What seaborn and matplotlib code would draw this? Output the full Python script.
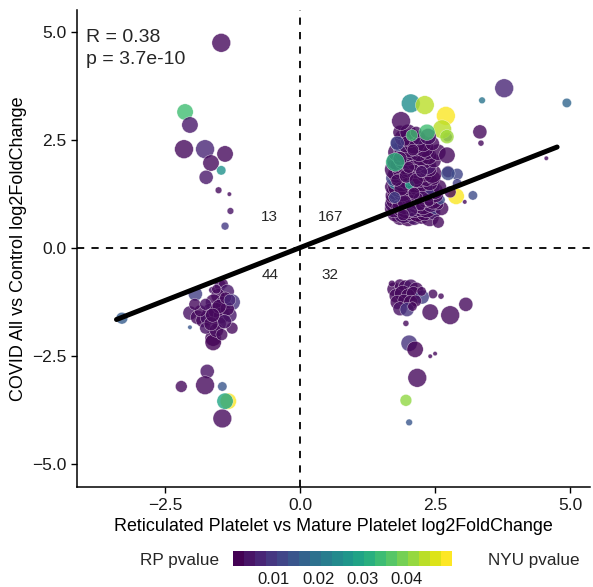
import numpy as np
import pandas as pd
import matplotlib
matplotlib.use("Agg")
import matplotlib.pyplot as plt
import seaborn as sns

sns.set_style("white")
plt.rcParams['font.family'] = ['Liberation Sans', 'DejaVu Sans']

# upper-left quadrant
tl_x = [-1.46, -2.13, -2.04, -2.15, -1.76, -1.39, -1.65, -1.46, -1.74, -1.51, -1.31, -1.29, -1.39]
tl_y = [4.75, 3.15, 2.85, 2.29, 2.29, 2.18, 1.97, 1.80, 1.64, 1.34, 1.25, 0.86, 0.51]
tl_rp = [0.002, 0.035, 0.004, 0.002, 0.006, 0.002, 0.002, 0.026, 0.004, 0.002, 0.002, 0.003, 0.009]
tl_nyu = [0.011, 0.021, 0.021, 0.011, 0.011, 0.021, 0.021, 0.042, 0.029, 0.047, 0.05, 0.047, 0.045]

# lower-left quadrant
bl_x = [-3.30, -1.72, -2.20, -1.76, -1.44, -1.33, -1.39, -1.44,
        -1.94, -1.63, -1.48, -1.42, -1.35, -1.26, -1.52, -1.60, -1.42, -2.04,
        -2.04, -1.90, -1.80, -1.67, -1.70, -1.55, -1.45, -1.30, -1.35, -1.26,
        -1.61, -1.61, -1.50, -1.75, -1.55, -1.85, -1.40, -1.95, -1.50, -1.65,
        -1.75, -1.38, -1.55, -1.45, -1.30, -1.62]
bl_y = [-1.62, -2.85, -3.20, -3.17, -3.20, -3.54, -3.54, -3.94,
        -1.06, -0.97, -0.86, -0.82, -1.00, -1.25, -1.10, -1.25, -1.30, -1.50,
        -1.83, -1.60, -1.67, -1.44, -1.60, -1.45, -1.55, -1.55, -1.40, -1.85,
        -2.08, -2.18, -1.75, -1.85, -1.90, -1.45, -1.70, -1.30, -1.35, -1.75,
        -1.30, -1.15, -0.95, -2.00, -1.20, -1.55]
bl_rp = [0.015, 0.003, 0.002, 0.002, 0.014, 0.050, 0.030, 0.002,
         0.010, 0.003, 0.003, 0.002, 0.004, 0.008, 0.002, 0.002, 0.003, 0.003,
         0.014, 0.002, 0.002, 0.002, 0.003, 0.002, 0.002, 0.004, 0.002, 0.002,
         0.002, 0.001, 0.002, 0.003, 0.002, 0.002, 0.003, 0.002, 0.002, 0.002,
         0.003, 0.002, 0.002, 0.002, 0.006, 0.002]
bl_nyu = [0.036, 0.029, 0.036, 0.011, 0.042, 0.021, 0.021, 0.011,
          0.029, 0.047, 0.036, 0.042, 0.029, 0.021, 0.029, 0.021, 0.021, 0.029,
          0.05, 0.029, 0.029, 0.029, 0.021, 0.021, 0.021, 0.029, 0.029, 0.036,
          0.021, 0.021, 0.029, 0.036, 0.029, 0.036, 0.029, 0.036, 0.029, 0.029,
          0.036, 0.036, 0.042, 0.036, 0.036, 0.029]

# lower-right quadrant
br_x = [2.46, 2.61, 2.41, 2.78, 3.07, 1.96, 2.02, 2.13, 2.41, 2.50, 2.17, 1.96, 2.02,
        1.74, 1.85, 1.95, 2.05, 2.15, 1.78, 1.90, 2.00, 2.10, 2.26, 1.80, 1.92,
        2.05, 2.14, 1.85, 1.98, 2.08, 1.70, 2.25]
br_y = [-1.06, -1.11, -1.48, -1.55, -1.30, -1.74, -2.20, -2.34, -2.50, -2.44, -3.00, -3.52, -4.03,
        -0.95, -0.85, -0.90, -0.88, -0.95, -1.10, -1.05, -1.10, -1.05, -1.13, -1.25, -1.20,
        -1.25, -1.22, -1.40, -1.42, -1.35, -0.82, -1.00]
br_rp = [0.002, 0.002, 0.002, 0.002, 0.002, 0.002, 0.008, 0.001, 0.002, 0.002, 0.002, 0.042, 0.014,
         0.002, 0.002, 0.002, 0.003, 0.002, 0.002, 0.002, 0.002, 0.002, 0.010, 0.002, 0.002,
         0.002, 0.002, 0.003, 0.008, 0.002, 0.002, 0.002]
br_nyu = [0.042, 0.048, 0.021, 0.011, 0.029, 0.048, 0.021, 0.021, 0.05, 0.05, 0.011, 0.036, 0.047,
          0.029, 0.036, 0.029, 0.029, 0.029, 0.029, 0.021, 0.029, 0.029, 0.029, 0.029, 0.036,
          0.029, 0.036, 0.029, 0.029, 0.042, 0.047, 0.042]

# upper-right quadrant: dense core, row by row
core_y = [0.72, 0.82, 0.92, 1.02, 1.12, 1.22, 1.32, 1.42, 1.52, 1.62,
          1.72, 1.82, 1.92, 2.02, 2.12, 2.22, 2.32, 2.42, 2.55, 2.68]
core_x = [
    [1.85, 2.0, 2.12, 2.25, 2.4],
    [1.78, 1.92, 2.05, 2.18, 2.3, 2.47],
    [1.74, 1.86, 1.98, 2.1, 2.22, 2.35, 2.5, 2.62],
    [1.72, 1.83, 1.95, 2.04, 2.16, 2.28, 2.42, 2.55],
    [1.76, 1.88, 1.99, 2.09, 2.2, 2.33, 2.46, 2.6],
    [1.73, 1.84, 1.94, 2.06, 2.15, 2.27, 2.38, 2.52],
    [1.78, 1.9, 2.01, 2.12, 2.24, 2.36, 2.5],
    [1.72, 1.82, 1.96, 2.07, 2.18, 2.3, 2.44, 2.58],
    [1.77, 1.89, 2.0, 2.13, 2.25, 2.4],
    [1.74, 1.86, 1.97, 2.09, 2.21, 2.34, 2.47],
    [1.8, 1.92, 2.04, 2.16, 2.3, 2.45],
    [1.76, 1.88, 2.0, 2.12, 2.26, 2.4],
    [1.82, 1.95, 2.08, 2.2, 2.35],
    [1.78, 1.9, 2.03, 2.16, 2.3, 2.48],
    [1.85, 1.98, 2.1, 2.24, 2.38],
    [1.8, 1.93, 2.06, 2.2, 2.36, 2.55],
    [1.88, 2.02, 2.15, 2.3],
    [1.83, 1.97, 2.12, 2.28, 2.45],
    [1.9, 2.05, 2.2],
    [1.85, 2.0, 2.15],
]
core_rp = [
    [0.002, 0.001, 0.003, 0.002, 0.002],
    [0.002, 0.003, 0.002, 0.001, 0.002, 0.004],
    [0.002, 0.002, 0.001, 0.003, 0.002, 0.002, 0.010, 0.002],
    [0.003, 0.002, 0.002, 0.002, 0.001, 0.002, 0.003, 0.002],
    [0.002, 0.001, 0.002, 0.004, 0.002, 0.002, 0.002, 0.012],
    [0.002, 0.002, 0.003, 0.002, 0.002, 0.001, 0.002, 0.002],
    [0.002, 0.002, 0.030, 0.002, 0.003, 0.002, 0.002],
    [0.002, 0.002, 0.001, 0.002, 0.002, 0.003, 0.008, 0.002],
    [0.022, 0.002, 0.002, 0.001, 0.002, 0.002],
    [0.010, 0.002, 0.002, 0.003, 0.002, 0.002, 0.002],
    [0.002, 0.003, 0.002, 0.002, 0.001, 0.002],
    [0.002, 0.002, 0.002, 0.003, 0.002, 0.002],
    [0.002, 0.001, 0.002, 0.002, 0.004],
    [0.002, 0.002, 0.003, 0.002, 0.002, 0.002],
    [0.002, 0.002, 0.002, 0.002, 0.002],
    [0.002, 0.003, 0.002, 0.002, 0.002, 0.002],
    [0.002, 0.002, 0.002, 0.002],
    [0.012, 0.002, 0.002, 0.002, 0.002],
    [0.002, 0.002, 0.003],
    [0.002, 0.002, 0.002],
]
core_nyu = [
    [0.021, 0.011, 0.021, 0.029, 0.011],
    [0.011, 0.001, 0.021, 0.011, 0.021, 0.029],
    [0.011, 0.021, 0.001, 0.011, 0.021, 0.011, 0.036, 0.029],
    [0.021, 0.011, 0.001, 0.021, 0.011, 0.001, 0.021, 0.036],
    [0.011, 0.001, 0.021, 0.011, 0.001, 0.021, 0.011, 0.042],
    [0.021, 0.011, 0.001, 0.011, 0.021, 0.011, 0.001, 0.029],
    [0.011, 0.001, 0.042, 0.011, 0.021, 0.001, 0.021],
    [0.021, 0.001, 0.011, 0.021, 0.011, 0.001, 0.021, 0.029],
    [0.029, 0.011, 0.021, 0.001, 0.011, 0.021],
    [0.021, 0.011, 0.001, 0.021, 0.011, 0.021, 0.029],
    [0.011, 0.021, 0.011, 0.001, 0.021, 0.011],
    [0.001, 0.011, 0.021, 0.011, 0.021, 0.029],
    [0.021, 0.011, 0.001, 0.021, 0.011],
    [0.011, 0.021, 0.011, 0.001, 0.021, 0.029],
    [0.021, 0.011, 0.021, 0.011, 0.021],
    [0.011, 0.001, 0.021, 0.011, 0.029, 0.021],
    [0.021, 0.011, 0.021, 0.011],
    [0.021, 0.011, 0.001, 0.021, 0.029],
    [0.021, 0.011, 0.029],
    [0.029, 0.021, 0.036],
]

# upper-right quadrant: extra points inside the core
fill_x = [1.81, 1.93, 2.07, 2.19, 1.87, 2.03, 1.79, 2.11, 1.97, 2.23,
          1.91, 2.15, 1.75, 2.01, 1.85, 2.09, 1.95, 2.25, 2.39]
fill_y = [0.97, 1.07, 0.87, 1.17, 1.37, 1.47, 1.57, 1.27, 1.67, 0.97,
          0.77, 1.57, 1.17, 1.87, 2.07, 2.27, 2.47, 1.77, 1.07]
fill_rp = [0.002, 0.002, 0.003, 0.002, 0.002, 0.030, 0.002, 0.002, 0.002, 0.002,
           0.002, 0.002, 0.010, 0.002, 0.002, 0.002, 0.002, 0.003, 0.002]
fill_nyu = [0.036, 0.029, 0.036, 0.042, 0.029, 0.042, 0.036, 0.036, 0.029, 0.042,
            0.036, 0.029, 0.036, 0.036, 0.029, 0.036, 0.042, 0.036, 0.042]

# upper-right quadrant: edge points and outliers
tr_x = [3.78, 3.37, 4.94, 2.70, 3.33, 3.35, 4.56, 2.73, 2.72, 2.74, 2.91, 2.05, 2.31, 1.87,
        2.63, 2.07, 2.37, 2.35, 2.72, 1.76, 2.89, 3.05, 2.74, 2.78, 2.56, 1.80, 3.20, 2.91]
tr_y = [3.70, 3.42, 3.36, 3.06, 2.69, 2.43, 2.08, 2.57, 2.15, 1.77, 1.71, 3.35, 3.31, 2.94,
        2.75, 2.61, 2.58, 2.68, 2.58, 1.99, 1.20, 1.07, 1.73, 1.30, 0.60, 2.43, 1.22, 1.50]
tr_rp = [0.006, 0.020, 0.017, 0.050, 0.002, 0.002, 0.002, 0.012, 0.002, 0.002, 0.011, 0.025, 0.045, 0.002,
         0.045, 0.035, 0.003, 0.035, 0.043, 0.033, 0.050, 0.002, 0.012, 0.002, 0.002, 0.010, 0.012, 0.010]
tr_nyu = [0.011, 0.047, 0.042, 0.011, 0.029, 0.048, 0.05, 0.042, 0.021, 0.036, 0.036, 0.011, 0.011, 0.011,
          0.011, 0.036, 0.021, 0.021, 0.029, 0.011, 0.021, 0.05, 0.029, 0.036, 0.036, 0.029, 0.042, 0.042]

quad_counts = ["13", "167", "44", "32"]
stat_r = 0.38
stat_p = "3.7e-10"
fit_slope = 0.489
fit_intercept = 0.012
cbar_ticks = [0.01, 0.02, 0.03, 0.04]

# build the table
xs = tl_x + bl_x + br_x + sum(core_x, []) + fill_x + tr_x
ys = (tl_y + bl_y + br_y + [y for y, row in zip(core_y, core_x) for _ in row]
      + fill_y + tr_y)
rps = tl_rp + bl_rp + br_rp + sum(core_rp, []) + fill_rp + tr_rp
nyus = tl_nyu + bl_nyu + br_nyu + sum(core_nyu, []) + fill_nyu + tr_nyu
df = pd.DataFrame({"rp_lfc": xs, "nyu_lfc": ys, "rp_p": rps, "nyu_p": nyus})

hue_norm = (0.0008, 0.0502)

fig = plt.figure(figsize=(5.93, 5.87), dpi=100)
ax = fig.add_axes([0.130, 0.170, 0.865, 0.813])

sns.scatterplot(data=df, x="rp_lfc", y="nyu_lfc", hue="rp_p", size="nyu_p",
                palette="viridis", hue_norm=hue_norm, sizes=(230, 10), size_norm=(0, 0.05),
                alpha=0.8, edgecolor="white", linewidth=0.3, legend=False, ax=ax)

# fitted line (linear model reported in the figure)
fit_x = np.array([df["rp_lfc"].min() - 0.1, df["rp_lfc"].max() - 0.18])
sns.lineplot(x=fit_x, y=fit_intercept + fit_slope * fit_x, color="black", lw=3.6, ax=ax)

ax.axhline(0, color="black", ls=(0, (4, 4)), lw=1.3)
ax.axvline(0, color="black", ls=(0, (4, 4)), lw=1.3)

ax.set_xlim(-4.13, 5.37)
ax.set_ylim(-5.53, 5.51)
ax.set_xticks([-2.5, 0, 2.5, 5.0])
ax.set_yticks([-5.0, -2.5, 0, 2.5, 5.0])
fmt = matplotlib.ticker.FuncFormatter(lambda v, _: f"{v:.1f}".replace("-", "\u2212"))
ax.xaxis.set_major_formatter(fmt)
ax.yaxis.set_major_formatter(fmt)
ax.tick_params(direction="out", length=4, width=1, color="black", labelsize=12.5,
               labelcolor="#1a1a1a", left=True, bottom=True)
sns.despine(ax=ax)
for s in ["left", "bottom"]:
    ax.spines[s].set_color("black")
    ax.spines[s].set_linewidth(1.1)
ax.set_xlabel("Reticulated Platelet vs Mature Platelet log2FoldChange", fontsize=12.9, color="black")
ax.set_ylabel("COVID All vs Control log2FoldChange", fontsize=13, color="black")

# quadrant counts
for txt, (qx, qy) in zip(quad_counts, [(-0.56, 0.72), (0.56, 0.72), (-0.56, -0.62), (0.56, -0.62)]):
    ax.text(qx, qy, txt, ha="center", va="center", fontsize=11)

ax.text(0.018, 0.96, f"R = {stat_r}\np = {stat_p}", transform=ax.transAxes,
        ha="left", va="top", fontsize=14, linespacing=1.4)

# colour bar legend at the bottom
cax = fig.add_axes([233 / 593, 1 - 566 / 587, 219 / 593, 15 / 587])
cmap = matplotlib.colormaps["viridis"].resampled(20)
sm = matplotlib.cm.ScalarMappable(norm=matplotlib.colors.Normalize(*hue_norm), cmap=cmap)
cb = fig.colorbar(sm, cax=cax, orientation="horizontal", ticks=cbar_ticks)
cb.outline.set_visible(False)
cb.ax.set_xticklabels([f"{t:.2f}" for t in cbar_ticks])
cb.ax.tick_params(direction="in", length=3, color="white", width=0.8, labelsize=12,
                  labelcolor="#1a1a1a", top=True, bottom=True, pad=4.5)
fig.text(140 / 593, 1 - 560 / 587, "RP pvalue", ha="left", va="center", fontsize=12.3)
fig.text(488 / 593, 1 - 560 / 587, "NYU pvalue", ha="left", va="center", fontsize=12.3)

fig.savefig("out.png", dpi=100)
